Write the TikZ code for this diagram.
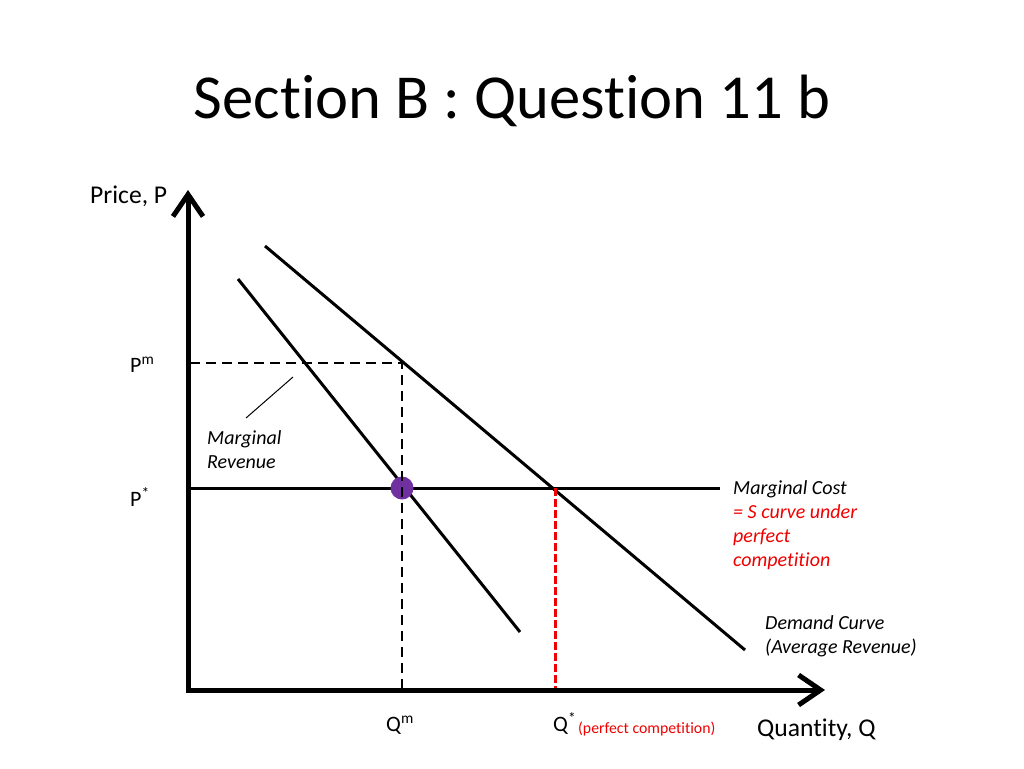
\documentclass[tikz,border=0pt]{standalone}
\usepackage{fontspec}
\setmainfont{Carlito}[Ligatures={NoCommon}]
\usetikzlibrary{arrows.meta}
\definecolor{pp}{RGB}{112, 48, 160}
\definecolor{rr}{RGB}{240, 0, 0}

\begin{document}
\begin{tikzpicture}[x=1pt, y=-1pt,
  every node/.style={inner sep=0pt},
  axis/.style={line width=5pt, {Straight Barb[length=22pt,width=30pt]}-{Straight Barb[length=22pt,width=30pt]}},
  curve/.style={line width=3pt},
  guide/.style={line width=2pt, dash pattern=on 10pt off 6pt},
  lbl/.style={anchor=base west, font=\fontsize{22}{26}\selectfont},
  big/.style={anchor=base west, font=\fontsize{25.6}{30}\selectfont},
  note/.style={anchor=base west, align=left, font=\fontsize{20}{24}\selectfont\itshape}]
\useasboundingbox (0,0) rectangle (1024,768);
\node (title) [anchor=base, font=\fontsize{62.6}{75}\selectfont] at (512,118) {Section B : Question 11 b};
% axes
\coordinate (o) at (188,690);
\coordinate (ytip) at (188,190);
\coordinate (xtip) at (825,690);
\draw [axis] (ytip) -- (o) -- (xtip);
% curves
\coordinate (d1) at (265,246);
\coordinate (d2) at (745,650);
\coordinate (mr1) at (238,279);
\coordinate (mr2) at (520,632);
\coordinate (mc1) at (190,488);
\coordinate (mc2) at (720,488);
\coordinate (pm) at (190,363);
\coordinate (m) at (402,363);
\coordinate (qm) at (402,688);
\coordinate (qs) at (555,488);
\coordinate (qsb) at (555,688);
\coordinate (l1) at (293,377);
\coordinate (l2) at (246,418);
\draw [curve] (mc1) -- (mc2);
\draw [curve] (mr1) -- (mr2);
\draw [curve] (d1) -- (d2);
\node (mono) [circle, minimum size=23pt, fill=pp] at (402,488) {};
\draw [guide] (pm) -- (m) -- (qm);
\draw [guide, color=rr, line width=3pt, dash pattern=on 8pt off 3pt] (qs) -- (qsb);
\draw [line width=1pt] (l1) -- (l2);
% labels
\node (pl) [big] at (90,203) {Price, P};
\node (ql) [big] at (757,736) {Quantity, Q};
\node (pml) [lbl] at (130,372) {P\textsuperscript{m}};
\node (psl) [lbl] at (130,506) {P\textsuperscript{*}};
\node (qml) [lbl] at (386,731) {Q\textsuperscript{m}};
\node (qsl) [lbl] at (553,731) {Q\textsuperscript{*}};
\node (pc) [anchor=base west, font=\fontsize{15.8}{19}\selectfont, text=rr] at (578,733) {(perfect competition)};
\node (mrl) [note] at (207,468) {Marginal\\Revenue};
\node (mcl) [note] at (733,566) {Marginal Cost\\\textcolor{rr}{= S curve under}\\\textcolor{rr}{perfect}\\\textcolor{rr}{competition}};
\node (dl) [note] at (765,653) {Demand Curve\\(Average Revenue)};
\end{tikzpicture}
\end{document}
